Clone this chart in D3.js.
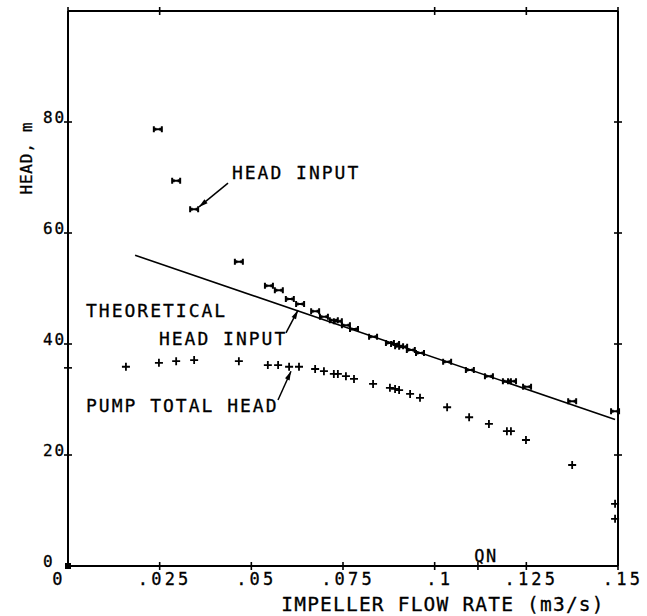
<!DOCTYPE html>
<html>
<head>
<meta charset="utf-8">
<script src="https://cdn.jsdelivr.net/npm/d3@7/dist/d3.min.js"></script>
<style>
  html, body { margin: 0; padding: 0; background: #fff; }
  svg text { font-family: "DejaVu Sans Mono", "Liberation Mono", monospace; fill: #000; stroke: #000; stroke-width: 0.3; }
</style>
</head>
<body>
<svg id="chart" width="647" height="616"></svg>
<script>
// ---- data ----
const headInputQ = [0.0245,0.0295,0.0344,0.0466,0.0548,0.0575,0.0605,0.0633,0.0674,0.0698,0.0725,0.0736,0.0758,0.0780,0.0832,0.0878,0.0892,0.0903,0.0914,0.0935,0.0960,0.1034,0.1096,0.1148,0.1197,0.1211,0.1252,0.1375,0.1492];
const headInputH = [78.7,69.4,64.3,54.8,50.5,49.7,48.1,47.2,45.9,44.9,44.3,44.1,43.4,42.7,41.3,40.2,40.0,39.6,39.5,38.9,38.4,36.8,35.3,34.2,33.3,33.3,32.3,29.7,27.9];
const pumpQ = [0.0158,0.0248,0.0295,0.0344,0.0466,0.0545,0.0573,0.0603,0.0630,0.0674,0.0698,0.0725,0.0736,0.0758,0.0780,0.0832,0.0878,0.0892,0.0903,0.0933,0.0960,0.1034,0.1094,0.1148,0.1197,0.1208,0.1249,0.1375,0.1492,0.1492];
const pumpH = [35.9,36.6,36.9,37.1,36.9,36.2,36.2,35.9,35.9,35.5,35.1,34.6,34.6,34.2,33.7,32.8,32.1,31.9,31.7,31.0,30.3,28.6,26.8,25.6,24.3,24.3,22.7,18.2,11.2,8.5];
const theoryQ = [0.0183, 0.1492];
const theoryH = [56.0, 26.4];
const xTicks = [0, 0.025, 0.05, 0.075, 0.1, 0.125, 0.15];
const xTickLabels = ["0", ".025", ".05", ".075", ".1", ".125", ".15"];
const qnValue = 0.1118;
const yTicks = [0, 20, 40, 60, 80];
const yTickLabels = ["0", "20", "40", "60", "80"];
const yExtraTick = 35.7;
const topTicks = [0, 0.025, 0.1, 0.125, 0.15];

// ---- layout ----
const svg = d3.select("#chart");
const L = 68, R = 618, T = 11, B = 566;
const x = d3.scaleLinear().domain([0, 0.15]).range([L, R]);
const y = d3.scaleLinear().domain([0, 100]).range([B, T]);
const ink = "#000";

svg.append("rect").attr("width", 647).attr("height", 616).attr("fill", "#fff");

// frame
const frame = svg.append("g").attr("stroke", ink).attr("stroke-width", 2).attr("fill", "none");
frame.append("line").attr("x1", L).attr("x2", L).attr("y1", T).attr("y2", B);
frame.append("line").attr("x1", R).attr("x2", R).attr("y1", T).attr("y2", B);
frame.append("line").attr("x1", L).attr("x2", R).attr("y1", T).attr("y2", T);
frame.append("line").attr("x1", L).attr("x2", R).attr("y1", B).attr("y2", B);

// ticks (crossing the frame)
const tk = svg.append("g").attr("stroke", ink).attr("stroke-width", 1.6);
[...xTicks.slice(1), qnValue].forEach(v => {
  tk.append("line").attr("x1", x(v)).attr("x2", x(v)).attr("y1", B - 4).attr("y2", B + 4);
});
topTicks.forEach(v => {
  tk.append("line").attr("x1", x(v)).attr("x2", x(v)).attr("y1", T - 4).attr("y2", T + 4);
});
[...yTicks.slice(1), yExtraTick].forEach(v => {
  tk.append("line").attr("x1", L - 4).attr("x2", L + 4).attr("y1", y(v)).attr("y2", y(v));
});
yTicks.slice(1).forEach(v => {
  tk.append("line").attr("x1", R - 4).attr("x2", R + 4).attr("y1", y(v)).attr("y2", y(v));
});

// origin marker
svg.append("rect").attr("x", x(0) - 3).attr("y", y(0) - 3).attr("width", 6).attr("height", 6).attr("fill", ink);

// x tick labels
svg.append("g").selectAll("text").data(xTicks).join("text")
  .attr("x", (d, i) => x(d) + (i === 0 ? -9 : 5))
  .attr("y", B + 19)
  .attr("text-anchor", "middle")
  .attr("font-size", 17)
  .attr("letter-spacing", 3.2)
  .text((d, i) => xTickLabels[i]);

// QN label
svg.append("text").attr("x", x(qnValue) + 8).attr("y", B - 4)
  .attr("text-anchor", "middle").attr("font-size", 17).attr("letter-spacing", 1.5).text("QN");

// y tick labels
svg.append("g").selectAll("text").data(yTicks).join("text")
  .attr("x", L - 25)
  .attr("y", d => y(d) + 1)
  .attr("font-size", 16)
  .attr("letter-spacing", 1.9)
  .text((d, i) => yTickLabels[i]);

// axis titles
svg.append("text").attr("x", 443).attr("y", 611).attr("text-anchor", "middle")
  .attr("font-size", 19.5).attr("letter-spacing", 1.2).text("IMPELLER FLOW RATE (m3/s)");
svg.append("text").attr("transform", "translate(32,158) rotate(-90)").attr("text-anchor", "middle")
  .attr("font-size", 16).attr("letter-spacing", 0.8).text("HEAD, m");

// theoretical line
svg.append("path")
  .datum(theoryQ.map((q, i) => [q, theoryH[i]]))
  .attr("d", d3.line().x(d => x(d[0])).y(d => y(d[1])))
  .attr("stroke", ink).attr("stroke-width", 1.6).attr("fill", "none");

// head input markers (horizontal bar with end bars)
svg.append("g").selectAll("path").data(headInputQ).join("path")
  .attr("transform", (d, i) => `translate(${x(d)},${y(headInputH[i])})`)
  .attr("d", "M-4,-3V3M-4,0H4M4,-3V3M-2.5,-1.5V1.5M2.5,-1.5V1.5")
  .attr("stroke", ink).attr("stroke-width", 2).attr("fill", "none");

// pump total head markers (+)
svg.append("g").selectAll("path").data(pumpQ).join("path")
  .attr("transform", (d, i) => `translate(${x(d)},${y(pumpH[i])})`)
  .attr("d", "M-4,0H4M0,-4V4")
  .attr("stroke", ink).attr("stroke-width", 1.8).attr("fill", "none");

// annotations
const labels = [
  {t: "HEAD INPUT", q: 0.0447, h: 69.7},
  {t: "THEORETICAL", q: 0.0049, h: 44.9},
  {t: "HEAD INPUT", q: 0.0248, h: 39.8},
  {t: "PUMP TOTAL HEAD", q: 0.0049, h: 27.7}
];
svg.append("g").selectAll("text").data(labels).join("text")
  .attr("x", d => x(d.q)).attr("y", d => y(d.h))
  .attr("font-size", 18).attr("letter-spacing", 2)
  .text(d => d.t);

const arrows = [
  {q0: 0.04364, h0: 69.0, q1: 0.03573, h1: 64.7},
  {q0: 0.05945, h0: 42.0, q1: 0.06273, h1: 46.1},
  {q0: 0.05727, h0: 29.9, q1: 0.06082, h1: 35.1}
];
const ag = svg.append("g");
arrows.forEach(a => {
  const x0 = x(a.q0), y0 = y(a.h0), x1 = x(a.q1), y1 = y(a.h1);
  ag.append("line").attr("x1", x0).attr("y1", y0).attr("x2", x1).attr("y2", y1)
    .attr("stroke", ink).attr("stroke-width", 1.5);
  const ang = Math.atan2(y1 - y0, x1 - x0);
  const len = 9, w = 2.5;
  const bx = x1 - len * Math.cos(ang), by = y1 - len * Math.sin(ang);
  const px = -Math.sin(ang) * w, py = Math.cos(ang) * w;
  ag.append("path")
    .attr("d", `M${x1},${y1}L${bx + px},${by + py}L${bx - px},${by - py}Z`)
    .attr("fill", ink);
});
</script>
</body>
</html>
